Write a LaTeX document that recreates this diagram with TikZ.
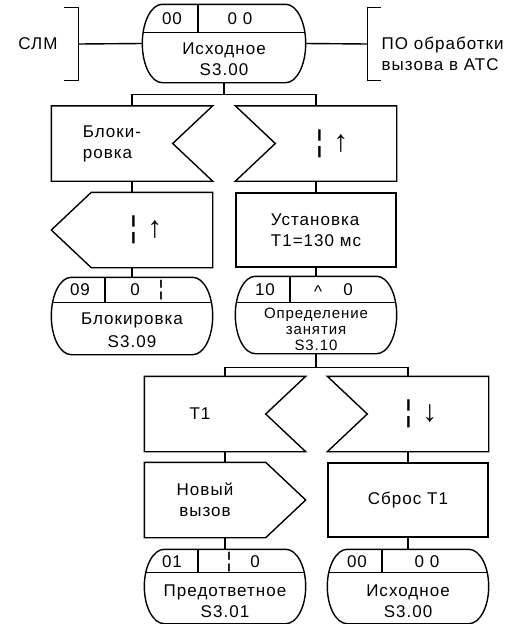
\documentclass[tikz,border=0pt]{standalone}
\usepackage{fontspec}
\setmainfont{Liberation Sans}[LetterSpace=6]
\usetikzlibrary{calc}

% outline of an SDL state: #1 node, #2 depth of the upper row
\newcommand{\stateshape}[2]{%
  \path[draw, path picture={\draw ([yshift=-#2]path picture bounding box.north west) -- ([yshift=-#2]path picture bounding box.north east);}]
    let \p1 = (#1.north), \p2 = (#1.south), \n1 = {(\y1-\y2)/2} in
    ([xshift=20pt]#1.north west) -- ([xshift=-20pt]#1.north east)
    arc[start angle=90, end angle=-90, x radius=20pt, y radius=\n1]
    -- ([xshift=20pt]#1.south west)
    arc[start angle=270, end angle=90, x radius=20pt, y radius=\n1] -- cycle;}

\begin{document}
\begin{tikzpicture}[x=1pt, y=-1pt, line width=1.4pt,
        every node/.style = {font=\fontsize{17}{21}\selectfont, inner sep=0pt},
        state/.style = {minimum width=160pt, minimum height=76pt},
        sigbody/.style = {minimum width=120pt, minimum height=74pt, align=left},
        task/.style = {draw, minimum width=160pt, minimum height=74pt, align=left},
        txt/.style = {align=center},
        sym/.style = {font=\fontsize{30}{30}\selectfont},
        bar/.style = {font=\fontsize{21}{21}\selectfont},
      ]
      \useasboundingbox (0,0) rectangle (518,624);
      % start state and environment
      \node[state, minimum width=162pt, minimum height=77pt] (s0) at (224,43.5) {};
      \stateshape{s0}{28pt}
      \node (s0a) at (172,19) {00};
      \node (s0b) at (240,19) {0 0};
      \draw ([xshift=-26pt]s0.north) -- ++(0,28);
      \node[txt] (s0n) at (224,59) {Исходное\\S3.00};
      \node (slm) at (38,44) {СЛМ};
      \node[minimum width=13pt, minimum height=72pt] (envL) at (71.5,44) {};
      \draw (envL.north west) -- (envL.north east) -- (envL.south east) -- (envL.south west);
      \draw (envL.east) -- (s0.west);
      \node[minimum width=12pt, minimum height=72pt] (envR) at (374,44) {};
      \draw (envR.north east) -- (envR.north west) -- (envR.south west) -- (envR.south east);
      \draw (s0.east) -- (envR.west);
      \node[align=left, anchor=west] (po) at (381,54) {ПО обработки\\вызова в АТС};
      % inputs in S3.00
      \node[sigbody] (blk) at (112,143.5) {Блоки-\\ровка};
      \draw (blk.north west) -- ([xshift=40pt]blk.north east) -- (blk.east) -- ([xshift=40pt]blk.south east) -- (blk.south west) -- cycle;
      \node[sigbody, sym] (inUp) at (332,143.5) {¦ ↑};
      \draw ([xshift=-36pt]inUp.north west) -- ([xshift=4pt]inUp.north east) -- ([xshift=4pt]inUp.south east) -- ([xshift=-36pt]inUp.south west) -- ([xshift=4pt]inUp.west) -- cycle;
      \draw (s0.south) -- ++(0,12) coordinate (j0);
      \draw (j0) -| ([xshift=20pt]blk.north);
      \draw (j0) -| ([xshift=-16pt]inUp.north);
      % output and task
      \node[sigbody, sym] (outUp) at (146,230) {¦ ↑};
      \draw ([xshift=6pt]outUp.north west) -- ([xshift=6pt]outUp.north east) -- ([xshift=6pt]outUp.south east) -- ([xshift=6pt]outUp.south west) -- ([xshift=-34pt]outUp.west) -- cycle;
      \node[task] (tset) at (316,230) {Установка\\T1=130 мс};
      \draw ([xshift=20pt]blk.south) -- ([xshift=-14pt]outUp.north);
      \draw ([xshift=-16pt]inUp.south) -- (tset.north);
      % states S3.09 and S3.10
      \node[state] (s9) at (132,316) {};
      \stateshape{s9}{25pt}
      \node (s9a) at (80,290) {09};
      \node (s9b) at (135,290) {0};
      \node[bar] (s9c) at (161,290) {¦};
      \draw ([xshift=-27pt]s9.north) -- ++(0,25);
      \node[txt] (s9n) at (132,330) {Блокировка\\[2pt]S3.09};
      \node[state] (s10) at (316,315) {};
      \stateshape{s10}{26pt}
      \node (s10a) at (265,290) {10};
      \node (s10b) at (318,292) {\textasciicircum};
      \node (s10c) at (348,290) {0};
      \draw ([xshift=-26pt]s10.north) -- ++(0,26);
      \node[txt, font=\fontsize{15}{16}\selectfont] (s10n) at (316,329) {Определение\\занятия\\S3.10};
      \draw ([xshift=-14pt]outUp.south) -- (s9.north);
      \draw (tset.south) -- (s10.north);
      % inputs in S3.10
      \draw (s10.south) -- ++(0,14) coordinate (j1);
      \node[sigbody] (tmr) at (200,414) {T1};
      \draw ([xshift=5pt]tmr.north west) -- ([xshift=45pt]tmr.north east) -- ([xshift=5pt]tmr.east) -- ([xshift=45pt]tmr.south east) -- ([xshift=5pt]tmr.south west) -- cycle;
      \node[sigbody, sym] (inDn) at (421,414) {¦ ↓};
      \draw ([xshift=-33pt]inDn.north west) -- ([xshift=7pt]inDn.north east) -- ([xshift=7pt]inDn.south east) -- ([xshift=-33pt]inDn.south west) -- ([xshift=7pt]inDn.west) -- cycle;
      \draw (j1) -| ([xshift=25pt]tmr.north);
      \draw (j1) -| ([xshift=-13pt]inDn.north);
      % output and task
      \node[sigbody, align=center] (newc) at (205,500) {Новый\\вызов};
      \draw (newc.north west) -- (newc.north east) -- ([xshift=40pt]newc.east) -- (newc.south east) -- (newc.south west) -- cycle;
      \node[task, align=center] (rst) at (408,500) {Сброс T1};
      \draw ([xshift=25pt]tmr.south) -- ([xshift=20pt]newc.north);
      \draw ([xshift=-13pt]inDn.south) -- (rst.north);
      % next states
      \node[state, minimum height=73pt] (s1) at (225,586.5) {};
      \stateshape{s1}{23pt}
      \node (s1a) at (172,562) {01};
      \node[bar] (s1b) at (229,562) {¦};
      \node (s1c) at (255,562) {0};
      \draw ([xshift=-27pt]s1.north) -- ++(0,23);
      \node[txt] (s1n) at (225,601) {Предответное\\S3.01};
      \node[state, minimum height=73pt] (s2) at (408,586.5) {};
      \stateshape{s2}{23pt}
      \node (s2a) at (357,562) {00};
      \node (s2b) at (427,562) {0 0};
      \draw ([xshift=-26pt]s2.north) -- ++(0,23);
      \node[txt] (s2n) at (408,601) {Исходное\\S3.00};
      \draw ([xshift=20pt]newc.south) -- (s1.north);
      \draw (rst.south) -- (s2.north);
    \end{tikzpicture}
\end{document}
